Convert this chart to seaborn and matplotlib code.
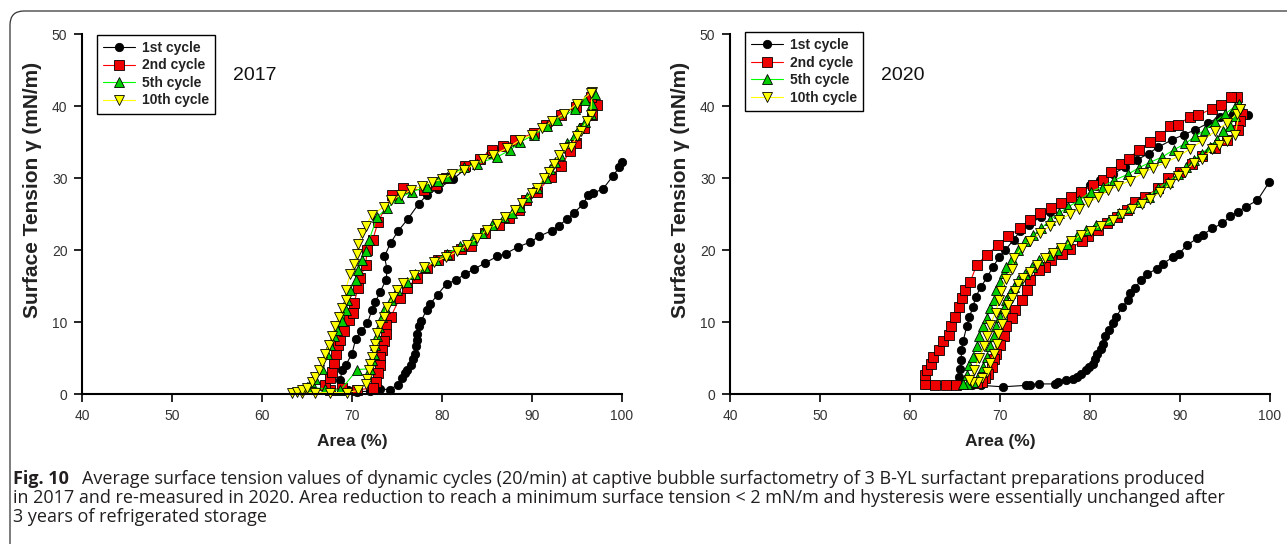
import numpy as np
import matplotlib
matplotlib.use('Agg')
import matplotlib.pyplot as plt
import matplotlib.patches as mpatches
import matplotlib.transforms as mtransforms
import seaborn as sns

# ---- 2017 panel (area %, surface tension mN/m) ----
a17_c1 = [100.0, 99.7, 99.0, 97.9, 96.8, 96.2, 95.7, 94.7, 93.9, 93.0, 92.2, 90.8, 89.8, 88.4, 87.1,
          86.1, 84.8, 83.5, 82.5, 81.5, 80.5, 79.5, 78.7, 78.3, 77.7, 77.4, 77.2, 77.2, 77.1, 77.0,
          76.8, 76.6, 76.1, 75.9, 75.5, 75.1, 74.2, 73.1, 72.0, 70.6, 69.5, 68.7, 68.9, 69.3, 70.0,
          70.4, 71.0, 71.7, 72.2, 72.6, 73.1, 73.8, 73.9, 73.6, 74.3, 75.1, 76.2, 77.4, 78.3, 79.5,
          81.2, 82.7, 84.1, 85.3, 88.0]
t17_c1 = [32.2, 31.5, 30.3, 28.5, 27.9, 27.6, 26.4, 25.2, 24.3, 23.4, 22.7, 21.9, 21.1, 20.4, 19.5,
          19.1, 18.2, 17.3, 16.6, 15.8, 15.3, 13.8, 12.5, 11.7, 10.2, 9.4, 8.4, 7.5, 6.6, 5.6,
          4.8, 4.0, 3.3, 2.9, 2.2, 1.3, 0.6, 0.7, 0.4, 0.3, 0.5, 2.0, 3.3, 4.0, 5.6,
          7.6, 8.7, 9.8, 11.6, 12.8, 14.1, 15.9, 17.3, 19.1, 21.0, 22.6, 24.3, 26.4, 27.6, 28.5,
          29.8, 31.4, 32.6, 33.3, 35.0]

a17_c2 = [97.2, 96.7, 95.8, 94.9, 94.2, 93.2, 92.1, 90.6, 89.3, 88.5, 87.4, 86.3, 84.8, 83.2, 82.1,
          80.8, 79.5, 78.3, 77.2, 76.1, 75.3, 74.3, 73.8, 73.8, 73.5, 73.3, 73.1, 73.1, 72.9, 72.7,
          72.3, 70.6, 68.9, 67.6, 67.0, 67.6, 67.8, 68.0, 68.2, 68.4, 68.7, 69.1, 69.7, 70.1, 70.2,
          70.7, 70.9, 71.5, 71.7, 72.3, 72.9, 74.4, 75.7, 78.0, 79.3, 80.4, 82.5, 84.2, 85.5, 86.8,
          88.1, 90.2, 91.5, 93.2, 94.9, 96.6]
t17_c2 = [40.1, 38.8, 36.9, 34.8, 33.7, 31.6, 30.2, 28.1, 26.9, 25.6, 24.4, 23.5, 22.3, 20.5, 20.2,
          19.3, 18.6, 17.5, 16.1, 14.7, 13.3, 10.7, 9.6, 8.4, 7.3, 6.1, 5.2, 4.0, 2.9, 1.7,
          0.8, 0.6, 0.8, 0.6, 1.2, 2.2, 3.1, 4.3, 5.6, 6.8, 7.5, 8.7, 10.3, 11.3, 12.6,
          14.7, 16.1, 17.9, 20.0, 21.4, 23.9, 27.6, 28.6, 28.3, 29.0, 30.0, 31.6, 32.7, 33.9, 34.4,
          35.3, 36.2, 37.4, 38.8, 39.9, 41.3]

a17_c5 = [97.0, 96.7, 96.5, 95.9, 95.2, 94.8, 93.9, 93.1, 92.6, 92.0, 91.5, 90.6, 89.4, 88.7, 87.8,
          86.9, 85.6, 84.4, 83.3, 82.0, 80.6, 79.3, 78.1, 77.0, 76.1, 75.0, 74.3, 73.7, 73.3, 73.0,
          72.8, 72.6, 72.4, 72.2, 72.0, 70.6, 68.7, 67.0, 65.0, 65.4, 65.9, 66.7, 67.2, 67.6, 68.0,
          68.3, 68.9, 69.3, 69.4, 69.8, 70.4, 70.7, 71.1, 71.5, 71.9, 72.8, 73.9, 75.2, 76.7, 78.3,
          79.6, 80.6, 82.4, 83.9, 86.1, 87.6, 88.7, 90.2, 91.7, 92.8, 94.8, 95.9]
t17_c5 = [41.7, 40.3, 38.9, 37.8, 36.9, 36.0, 34.8, 33.2, 32.2, 31.3, 30.0, 28.6, 27.4, 26.0, 25.1,
          24.6, 23.5, 22.3, 21.4, 20.5, 19.5, 18.6, 17.6, 16.7, 15.5, 14.5, 13.0, 11.9, 10.7, 9.3,
          8.0, 6.8, 5.6, 4.7, 3.5, 3.4, 0.5, 0.7, 1.0, 1.6, 2.1, 3.5, 5.5, 6.8, 8.0,
          8.9, 10.2, 11.6, 13.0, 14.5, 15.9, 17.2, 18.6, 19.8, 21.4, 24.6, 25.8, 27.2, 28.1, 28.8,
          29.6, 30.1, 31.5, 32.0, 32.9, 33.9, 35.0, 36.0, 37.2, 38.0, 39.6, 40.8]

a17_c10 = [96.7, 96.5, 96.1, 95.4, 95.0, 94.3, 93.5, 93.0, 92.4, 91.9, 91.3, 90.6, 90.0, 88.9, 88.1,
           87.0, 86.1, 85.0, 83.9, 82.8, 81.7, 80.4, 79.1, 78.0, 76.9, 75.7, 75.0, 74.6, 73.9, 73.5,
           73.1, 72.8, 72.6, 72.4, 72.2, 72.0, 71.9, 71.7, 71.5, 70.7, 69.4, 67.6, 65.9, 64.4, 63.3,
           63.9, 64.4, 65.0, 65.6, 65.9, 66.3, 66.7, 67.0, 67.4, 67.8, 68.1, 68.5, 68.9, 69.3, 69.3,
           69.8, 70.2, 70.5, 70.7, 71.1, 71.5, 72.2, 73.5, 74.3, 75.4, 76.5, 77.8, 78.9, 80.0, 81.1,
           82.4, 83.5, 84.6, 85.7, 87.2, 88.7, 90.0, 91.1, 92.2, 93.5, 95.0, 96.5]
t17_c10 = [42.0, 38.8, 37.9, 36.5, 35.8, 34.3, 34.1, 33.2, 32.0, 30.9, 30.0, 28.6, 27.9, 26.5, 25.5,
           24.6, 23.6, 22.8, 21.6, 20.7, 19.8, 19.0, 18.3, 17.6, 16.5, 15.4, 14.5, 13.5, 12.1, 10.7,
           9.6, 8.5, 7.0, 6.1, 5.2, 4.2, 3.3, 2.1, 1.4, 0.5, 0.2, 0.2, 0.2, 0.2, 0.1,
           0.3, 0.6, 0.9, 1.6, 2.3, 3.3, 4.5, 5.6, 6.8, 8.0, 9.4, 10.7, 11.9, 13.0, 14.5,
           16.7, 18.1, 19.5, 20.9, 22.3, 23.3, 24.8, 26.0, 26.9, 27.6, 28.3, 28.9, 29.5, 29.8, 30.5,
           31.1, 31.8, 32.6, 33.2, 34.1, 35.3, 36.0, 36.9, 37.9, 38.9, 40.3, 41.8]

# ---- 2020 panel ----
a20_c1 = [99.9, 98.6, 97.3, 96.4, 95.6, 94.7, 93.6, 92.5, 91.9, 90.8, 89.9, 89.2, 88.1, 87.4, 86.3,
          85.7, 85.0, 84.4, 84.2, 83.6, 82.9, 82.5, 82.1, 81.7, 81.4, 81.2, 80.8, 80.6, 80.3, 79.9,
          79.5, 79.0, 78.6, 78.1, 77.3, 76.4, 76.1, 74.3, 73.3, 72.9, 70.3, 67.9, 66.9, 64.9, 65.4,
          65.6, 65.7, 65.7, 65.9, 66.3, 66.6, 67.0, 67.3, 67.9, 68.6, 69.2, 69.9, 70.6, 71.5, 72.2,
          73.2, 74.5, 75.6, 76.9, 78.0, 78.9, 80.0, 81.1, 82.6, 83.9, 85.2, 86.5, 87.6, 89.1, 90.4,
          91.7, 93.1, 94.4, 95.9, 97.5]
t20_c1 = [29.4, 26.9, 26.0, 25.3, 24.7, 23.7, 23.0, 22.1, 21.6, 20.7, 19.5, 19.0, 18.1, 17.4, 16.6,
          15.9, 14.7, 14.0, 13.0, 12.1, 10.7, 9.9, 8.9, 8.0, 7.0, 6.3, 5.6, 4.9, 4.2, 3.8,
          3.3, 2.8, 2.3, 2.1, 1.9, 1.6, 1.4, 1.4, 1.3, 1.2, 1.0, 1.2, 1.2, 1.3, 2.3,
          3.5, 4.7, 6.1, 7.3, 9.4, 10.7, 12.1, 13.5, 14.9, 16.3, 17.6, 19.0, 20.0, 21.4, 22.6,
          23.5, 24.6, 25.3, 26.5, 27.4, 28.1, 29.0, 29.7, 30.6, 31.5, 32.5, 33.4, 34.3, 35.3, 36.0,
          36.7, 37.6, 38.5, 38.9, 38.8]

a20_c2 = [96.3, 96.9, 96.7, 96.4, 95.2, 93.9, 92.4, 91.3, 90.0, 88.7, 87.6, 86.1, 85.0, 84.1, 83.0,
          81.9, 80.9, 79.8, 79.1, 77.8, 76.9, 75.7, 75.0, 74.3, 73.3, 73.0, 72.4, 71.7, 71.3, 70.7,
          70.4, 70.0, 69.6, 69.3, 69.1, 68.7, 68.3, 68.0, 67.4, 65.1, 64.0, 62.8, 61.7, 61.7, 61.9,
          62.3, 62.6, 63.2, 63.7, 64.3, 64.6, 65.0, 65.4, 65.8, 66.1, 66.7, 67.4, 68.5, 69.8, 70.9,
          72.2, 73.3, 74.4, 75.7, 76.8, 77.9, 79.0, 80.3, 81.4, 82.3, 83.4, 84.3, 85.4, 86.7, 87.8,
          88.9, 89.8, 91.1, 92.0, 93.5, 94.6, 95.7]
t20_c2 = [41.2, 38.9, 37.9, 36.7, 35.3, 34.1, 33.0, 32.0, 30.9, 30.0, 28.6, 27.4, 26.7, 25.5, 24.6,
          23.7, 22.8, 21.9, 21.2, 20.2, 19.5, 18.6, 17.6, 17.2, 15.9, 14.5, 13.0, 11.6, 10.6, 9.4,
          8.0, 6.8, 5.6, 4.9, 3.8, 2.8, 2.2, 1.7, 1.5, 1.3, 1.3, 1.3, 1.4, 2.6, 3.3,
          4.2, 5.2, 6.1, 7.3, 8.2, 9.4, 10.7, 12.1, 13.3, 14.5, 15.6, 17.9, 19.3, 20.7, 21.9,
          23.0, 24.1, 25.1, 25.8, 26.5, 27.4, 28.1, 29.0, 29.7, 30.9, 32.0, 32.7, 33.9, 35.0, 35.8,
          37.2, 37.4, 38.5, 38.7, 39.6, 40.1, 41.3]

a20_c5 = [96.5, 96.1, 95.6, 94.8, 94.1, 93.3, 92.4, 91.5, 90.7, 89.8, 88.7, 87.6, 86.5, 85.4, 84.3,
          83.2, 82.1, 80.7, 79.6, 78.5, 77.4, 76.3, 75.4, 74.3, 73.5, 72.8, 72.0, 71.5, 71.1, 70.7,
          70.4, 70.0, 69.6, 69.3, 68.9, 68.5, 68.1, 67.6, 67.0, 66.3, 65.9, 66.3, 66.6, 67.0, 67.4,
          67.7, 68.1, 68.5, 68.9, 69.3, 69.6, 70.0, 70.4, 70.7, 71.3, 72.0, 72.8, 73.7, 74.6, 75.5,
          76.5, 77.6, 78.8, 80.1, 81.4, 82.7, 84.2, 85.4, 86.7, 88.0, 89.3, 90.6, 91.7, 92.8, 93.9,
          95.0, 96.1]
t20_c5 = [40.3, 38.6, 37.2, 36.5, 35.3, 34.3, 33.4, 32.5, 31.5, 30.5, 29.5, 28.6, 27.4, 26.7, 25.8,
          25.1, 24.1, 23.5, 22.8, 21.9, 20.9, 20.0, 19.3, 18.6, 17.6, 16.7, 15.8, 14.8, 14.0, 13.0,
          11.9, 10.7, 9.4, 8.0, 6.6, 5.2, 3.8, 2.4, 1.7, 1.4, 1.4, 2.6, 4.0, 5.2, 6.6,
          8.0, 9.4, 10.6, 11.9, 13.0, 14.5, 15.6, 16.8, 17.6, 18.8, 20.0, 21.2, 22.1, 23.0, 24.1,
          25.1, 26.0, 26.9, 28.1, 28.8, 29.7, 30.5, 31.4, 32.2, 32.9, 33.9, 34.8, 35.8, 36.7, 37.8,
          38.9, 39.9]

a20_c10 = [96.7, 96.1, 95.2, 94.3, 93.5, 92.4, 91.5, 90.6, 89.8, 88.9, 87.8, 86.7, 85.8, 84.7, 83.6,
           82.5, 81.2, 80.1, 79.0, 77.9, 76.8, 75.9, 75.0, 74.1, 73.3, 72.6, 72.0, 71.7, 71.3, 70.9,
           70.6, 70.2, 69.8, 69.7, 69.3, 68.9, 68.6, 68.0, 67.5, 66.9, 66.6, 67.1, 67.7, 68.2, 68.6,
           68.9, 69.5, 69.9, 70.1, 70.7, 71.3, 71.6, 72.4, 73.3, 74.4, 75.5, 76.5, 77.8, 78.8, 79.8,
           80.9, 82.0, 83.1, 84.4, 85.9, 87.0, 88.3, 89.8, 91.1, 92.4, 93.9, 95.2, 96.3, 96.7]
t20_c10 = [39.6, 36.0, 35.1, 34.6, 34.0, 32.6, 32.1, 30.9, 30.3, 29.2, 28.0, 27.1, 26.4, 25.7, 25.0,
           24.1, 23.4, 22.7, 22.1, 21.2, 20.3, 19.6, 18.9, 17.9, 17.0, 16.1, 15.3, 14.3, 13.4, 12.3,
           11.1, 9.7, 8.4, 7.0, 5.6, 4.3, 3.1, 2.2, 1.7, 1.6, 1.9, 3.3, 5.0, 6.6, 8.0,
           9.6, 11.3, 13.0, 14.3, 16.0, 17.3, 18.9, 20.3, 21.2, 22.3, 23.3, 24.1, 25.0, 25.7, 26.6,
           27.3, 28.3, 28.9, 29.6, 30.7, 31.4, 32.1, 33.0, 34.0, 35.1, 36.5, 37.6, 38.9, 39.6]

cycle_labels = ['1st cycle', '2nd cycle', '5th cycle', '10th cycle']
panel_years = ['2017', '2020']

caption_bold = 'Fig. 10'
caption_lines = [
    'Average surface tension values of dynamic cycles (20/min) at captive bubble surfactometry of 3 B-YL surfactant preparations produced',
    'in 2017 and re-measured in 2020. Area reduction to reach a minimum surface tension < 2 mN/m and hysteresis were essentially unchanged after',
    '3 years of refrigerated storage',
]

panels = [
    [(a17_c1, t17_c1), (a17_c2, t17_c2), (a17_c5, t17_c5), (a17_c10, t17_c10)],
    [(a20_c1, t20_c1), (a20_c2, t20_c2), (a20_c5, t20_c5), (a20_c10, t20_c10)],
]

# line colour, marker, face colour, size
styles = [
    ('black', 'o', 'black', 6.0),
    ('#ff0000', 's', '#ee0000', 6.5),
    ('#00ff00', '^', '#00cc00', 7.0),
    ('#ffff00', 'v', '#ffff00', 7.0),
]

sns.set_theme(style='ticks')
plt.rcParams['font.family'] = ['Liberation Sans', 'DejaVu Sans']
plt.rcParams['axes.linewidth'] = 1.5

fig = plt.figure(figsize=(12.87, 5.44), dpi=100)
W, H = 1287, 544
axes_px = [(82, 622), (730, 1270)]

for k, (x0, x1) in enumerate(axes_px):
    ax = fig.add_axes([x0 / W, 1 - 394 / H, (x1 - x0) / W, 360 / H])
    for (xs, ys), lab, (lc, mk, fc, ms) in zip(panels[k], cycle_labels, styles):
        sns.lineplot(x=xs, y=ys, sort=False, estimator=None, ax=ax, label=lab,
                     color=lc, linewidth=0.8, marker=mk, markersize=ms,
                     markerfacecolor=fc, markeredgecolor='black', markeredgewidth=0.6,
                     clip_on=False)
    ax.set_xlim(40, 100)
    ax.set_ylim(0, 50)
    ax.set_xticks(np.arange(40, 101, 10))
    ax.set_yticks(np.arange(0, 51, 10))
    sns.despine(ax=ax)
    for s in ['left', 'bottom']:
        ax.spines[s].set_color('black')
        ax.spines[s].set_linewidth(1.5)
    ax.tick_params(direction='out', length=5.5, width=1.2, color='black',
                   labelsize=10, labelcolor='#333333', pad=5)
    ax.set_xlabel('Area (%)', fontsize=12.5, fontweight='bold', color='#222222', labelpad=8)
    ax.set_ylabel('Surface Tension \u03b3 (mN/m)', fontsize=15, fontweight='bold',
                  color='#222222')
    ax.yaxis.set_label_coords(-0.074, 0.567)
    ax.text(0.32, 0.886, panel_years[k], transform=ax.transAxes, fontsize=14,
            ha='center', va='center', color='#111111')
    leg = ax.legend(loc='upper left', bbox_to_anchor=(0.028, 0.998 + 0.008 * k),
                    frameon=True, fancybox=False, edgecolor='black', framealpha=1,
                    prop={'weight': 'bold', 'size': 10}, borderaxespad=0,
                    handlelength=2.3, labelspacing=0.25, borderpad=0.45,
                    handletextpad=0.45)
    leg.get_frame().set_linewidth(1.0)
    for t in leg.get_texts():
        t.set_color('#222222')

# caption
cap_font = ['Open Sans', 'DejaVu Sans']
cap_size = 13
fig.text(13 / W, 1 - 479 / H, caption_bold, fontsize=cap_size, fontweight='bold',
         family=cap_font, color='#231f20', va='center', ha='left')
fig.text(82 / W, 1 - 479 / H, caption_lines[0], fontsize=cap_size, family=cap_font,
         color='#231f20', va='center', ha='left')
fig.text(13 / W, 1 - 498 / H, caption_lines[1], fontsize=cap_size, family=cap_font,
         color='#231f20', va='center', ha='left')
fig.text(13 / W, 1 - 517 / H, caption_lines[2], fontsize=cap_size, family=cap_font,
         color='#231f20', va='center', ha='left')

# rounded frame (open at right and bottom)
frame = mpatches.FancyBboxPatch((10, -40), 1320, H - 11 + 40,
                                boxstyle='round,pad=0,rounding_size=14',
                                transform=mtransforms.IdentityTransform(),
                                fill=False, edgecolor='#333333', linewidth=0.9)
fig.add_artist(frame)

fig.savefig('out.png', dpi=100)
